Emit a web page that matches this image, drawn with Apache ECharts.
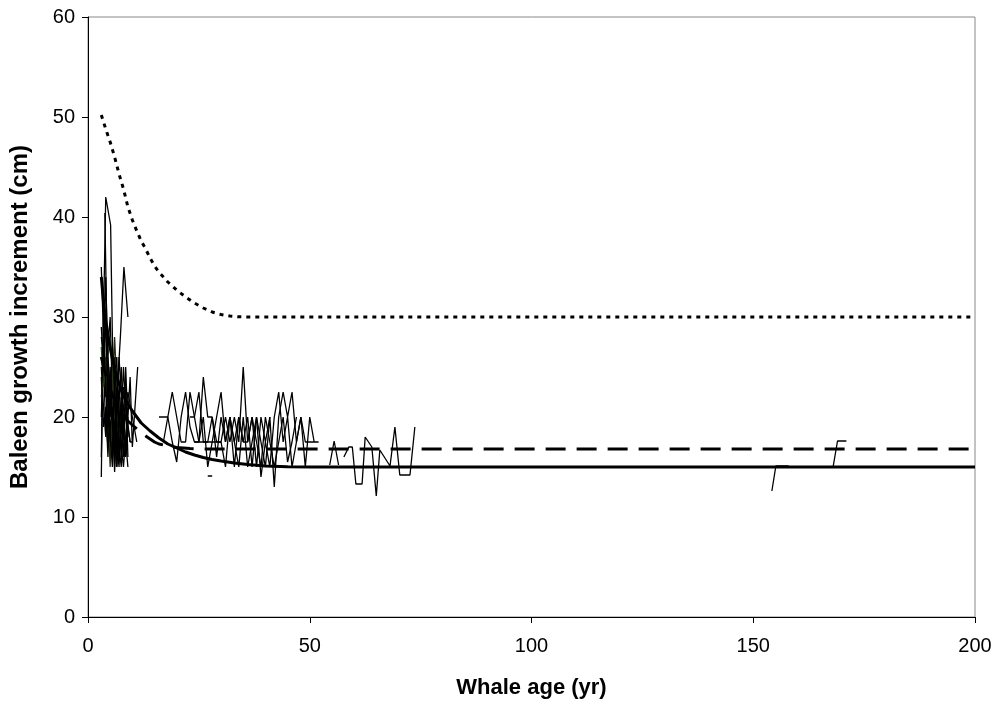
<!DOCTYPE html>
<html>
<head>
<meta charset="utf-8">
<script src="https://cdn.jsdelivr.net/npm/echarts@6/dist/echarts.min.js"></script>
<style>
  html, body { margin: 0; padding: 0; background: #fff; }
  #chart { width: 1000px; height: 707px; }
</style>
</head>
<body>
<div id="chart"></div>
<script>
  // axis ticks
  var xTicks = [0, 50, 100, 150, 200];
  var yTicks = [0, 10, 20, 30, 40, 50, 60];

  // model curves [age, increment]
  var dottedCurve = [[3,50.2],[4,48.8],[5,47.5],[6,46],[7,44.3],[8,42.8],[9,41],[10,39.7],[11,38.6],[12,37.6],[13,36.8],[14,35.9],[15,35.1],[16,34.5],[17,34],[18,33.5],[19,33.1],[20,32.7],[22,32],[24,31.4],[26,30.9],[28,30.5],[30,30.25],[32,30.1],[34,30.02],[36,30],[200,30]];
  var solidCurve = [[3,34],[3.5,31.5],[4,29.6],[5,26.9],[6,24.8],[7,23.3],[8,22.1],[9,21.3],[10,20.6],[11,20],[12,19.4],[13,19],[14,18.6],[16,17.9],[18,17.3],[20,16.9],[22,16.5],[24,16.2],[26,15.95],[28,15.75],[30,15.6],[33,15.4],[36,15.25],[40,15.1],[45,15.02],[50,15],[200,15]];
  var dashedCurve = [[3,26],[4,24.2],[5,22.8],[6,21.7],[7,20.8],[8,20.1],[9,19.6],[10,19.2],[11,18.8],[12,18.4],[13,18.1],[14,17.8],[15,17.5],[16,17.3],[18,17.1],[20,16.95],[23,16.85],[26,16.8],[200,16.8]];

  // individual whales, young (ages 3-11)
  var w1 = [[3,16],[3.5,30],[4,42],[5.1,39.2],[5.5,28],[6,21],[6.5,17],[7,15],[7.5,20],[8,19]];
  var w2 = [[3.8,40.4],[4.2,30],[4.5,22],[5,19],[5.5,16],[6,20],[6.5,24],[7,18],[7.3,17]];
  var w3 = [[3,25],[3.5,21],[4,18],[4.5,26],[5,23],[5.5,17],[6,19],[6.5,22],[7.3,28],[8.1,35],[9,30]];
  var w4 = [[3,14],[3.5,30],[4,24],[4.5,18],[5,21],[5.5,25],[6,18],[6.5,15],[7,19],[7.5,22],[8,19],[8.5,16],[9,20],[9.5,24],[10,17],[11.2,25]];
  var w5 = [[3,34],[3.5,32],[4,28],[4.5,24],[5,20],[5.5,23],[6,26],[6.5,20],[7,16],[7.5,19],[8,23],[8.5,21],[9,18]];
  var w6 = [[3,26],[3.5,24],[4,22],[4.5,27],[5,30],[5.5,22],[6,17],[6.5,18],[7,20],[7.5,17],[8,15],[8.5,18],[9,21]];
  var w7 = [[3,29],[3.5,25],[4,19],[4.5,22],[5,24],[5.5,20],[6,15],[6.5,21],[7,26],[7.5,22],[8,18],[8.5,16.5],[9,20]];
  var w8 = [[3,27],[3.5,23],[4,25],[4.5,26],[5,28],[5.5,24],[6,20],[6.5,19],[7,18]];
  var w9 = [[3,20],[3.5,27],[4,34],[4.5,25],[5,17],[5.5,20],[6,22],[6.5,18],[7,15.5],[7.5,20],[8,25],[8.5,21],[9.5,17.5]];
  var w10 = [[3,22],[3.5,24],[4,26],[4.5,20],[5,15],[5.5,22],[6,28],[6.5,23],[7,19],[7.5,17.5],[8,17.5]];
  var w11 = [[3,35],[3.5,28],[4,23],[4.5,19],[5,25],[5.5,19],[6,16],[6.5,23],[7,21],[7.5,16],[8,20],[8.5,17.5],[9,15]];
  var w12 = [[3,24],[3.5,19],[4,21],[4.5,16],[5,22],[5.5,27],[6,23],[6.5,15],[7,22],[7.5,25],[8,18],[9,22.5],[10,20],[11,17.5]];
  var w13 = [[3,28],[3.5,26],[4,30],[4.5,21],[5,18],[5.5,15],[6,24],[6.5,26],[7,17],[7.5,15],[8,21],[8.5,23],[9,16]];
  var w14 = [[4,20],[4.5,17],[5,19],[5.5,21],[6,14.5],[6.5,20],[7,23],[7.5,19],[8,16],[8.5,25],[9,19],[9.5,17.5],[10,17.5]];

  // individual whales, middle ages (15-52)
  var m1 = [[16,20],[18,20],[19,17.5],[20,15.5],[21,20],[22,22.5],[23,19],[24,17.5],[25,17.5],[26,24],[27,20],[28,20],[29,17.5],[30,17.5],[31,20],[32,17.5],[33,20],[34,17.5],[35,25],[36,17.5],[37,20],[38,15],[39,20],[40,17.5],[41,20]];
  var m2 = [[23,20],[24,20],[25,22.5],[26,17.5],[27,17.5],[28,20],[29,16],[30,20],[31,17.5],[32,20],[33,15],[34,20],[35,17.5],[36,20],[37,15],[38,20],[39,17.5],[40,15],[41,20],[42,13],[43,20],[44,22.5],[45,20],[46,22.5],[47,17.5],[48,20],[49,15],[50,20],[51,17.5]];
  var m3 = [[24,17.5],[30,17.5],[31,15],[32,20],[33,17.5],[34,15],[35,20],[36,15],[37,17.5],[38,20],[39,14],[40,17.5],[41,15],[42,20],[43,22.5],[44,17.5],[45,20],[46,15],[47,17.5],[48,20],[49,17.5],[52,17.5]];
  var m4 = [[17,17.5],[18,20],[19,22.5],[20,20],[21,17.5],[22,17.5],[23,22.5],[24,20],[25,17.5],[26,20],[27,15],[28,17.5],[29,20],[30,22.5],[31,17.5],[32,20],[33,17.5],[34,20],[35,17.5],[36,17.5],[37,20],[38,17.5],[39,15],[40,20],[41,17.5],[42,15],[43,17.5],[44,20],[45,15.5],[46,17.5],[47,20]];

  // older whales
  var l1 = [[54.5,15.2],[55.5,17.6],[56.5,15.2]];
  var l2 = [[57.7,16],[58.8,17],[59.6,17],[60.4,13.3],[61.8,13.3],[62.5,18],[64,17],[65,12.1],[65.8,16.7],[68.1,15.1],[69.2,19],[70.3,14.2],[72.6,14.2],[73.7,19]];
  var f1 = [[27,14.1],[28,14.1]];
  var f2 = [[154.2,12.6],[155.1,15.1],[158,15.1]];
  var f3 = [[168,15],[169,17.6],[171,17.6]];

  var thin = [w1, w2, w3, w4, w5, w6, w7, w8, w9, w10, w11, w12, w13, w14, m1, m2, m3, m4, l1, l2, f1, f2, f3];
  var thinColors = { 7: '#1d4f1d', 9: '#2a2a10' };

  var series = [];
  thin.forEach(function (d, i) {
    series.push({
      type: 'line',
      data: d,
      showSymbol: false,
      silent: true,
      lineStyle: { color: thinColors[i] || '#000', width: 1.3 }
    });
  });
  series.push({
    type: 'line', data: dottedCurve, showSymbol: false,
    lineStyle: { color: '#000', width: 3, type: [4, 5] }
  });
  series.push({
    type: 'line', data: dashedCurve, showSymbol: false,
    lineStyle: { color: '#000', width: 3, type: [20, 11] }
  });
  series.push({
    type: 'line', data: solidCurve, showSymbol: false,
    lineStyle: { color: '#000', width: 3 }
  });

  var chart = echarts.init(document.getElementById('chart'));
  chart.setOption({
    animation: false,
    textStyle: { fontFamily: 'Liberation Sans' },
    grid: {
      left: 85, right: 25, top: 17, bottom: 90,
      show: true, borderColor: '#888', borderWidth: 1
    },
    xAxis: {
      type: 'value',
      min: xTicks[0], max: xTicks[xTicks.length - 1], interval: 50,
      name: 'Whale age (yr)',
      nameLocation: 'middle',
      nameGap: 60,
      nameTextStyle: { fontSize: 22, fontWeight: 'bold', color: '#000' },
      axisLine: { lineStyle: { color: '#000', width: 1 } },
      axisTick: { show: true, length: 6, inside: false, lineStyle: { color: '#000' } },
      axisLabel: { fontSize: 20, color: '#000', margin: 19 },
      splitLine: { show: false }
    },
    yAxis: {
      type: 'value',
      min: yTicks[0], max: yTicks[yTicks.length - 1], interval: 10,
      name: 'Baleen growth increment (cm)',
      nameLocation: 'middle',
      nameGap: 56,
      nameTextStyle: { fontSize: 24, fontWeight: 'bold', color: '#000' },
      axisLine: { show: true, lineStyle: { color: '#000', width: 1 } },
      axisTick: { show: true, length: 6, inside: false, lineStyle: { color: '#000' } },
      axisLabel: { fontSize: 20, color: '#000', margin: 13 },
      splitLine: { show: false }
    },
    series: series
  });
</script>
</body>
</html>
